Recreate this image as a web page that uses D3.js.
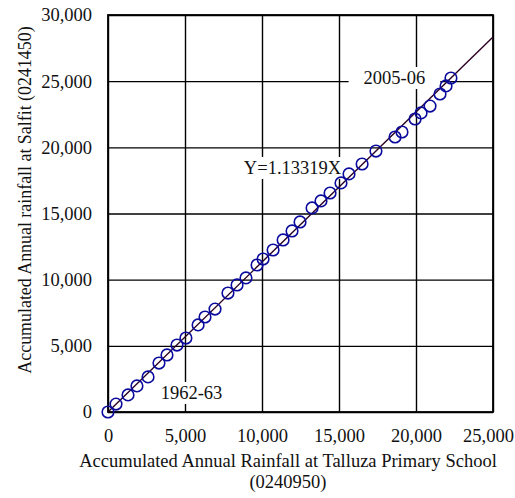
<!DOCTYPE html>
<html><head><meta charset="utf-8">
<script src="https://cdn.jsdelivr.net/npm/d3@7"></script>
<style>
html,body{margin:0;padding:0;background:#fff;}
text{font-family:"Liberation Serif","Times New Roman",serif;fill:#111;}
</style></head>
<body>
<svg id="chart" width="515" height="498"></svg>
<script>
// Accumulated annual rainfall (mm)
const talluza = [0, 520, 1300, 1880, 2600, 3310, 3830, 4480, 5060, 5850, 6300, 6950, 7790, 8380, 8960, 9680, 10070, 10720, 11370, 11950, 12470, 13250, 13830, 14420, 15130, 15650, 16500, 17400, 18640, 19090, 19940, 20330, 20910, 21560, 21950, 22270];
const salfit  = [0, 600, 1290, 1970, 2650, 3700, 4310, 5060, 5590, 6580, 7180, 7780, 8990, 9600, 10130, 11110, 11560, 12240, 13000, 13680, 14360, 15420, 15950, 16550, 17310, 17990, 18740, 19720, 20780, 21160, 22140, 22600, 23120, 24030, 24640, 25240];
const slope = 1.13319;
const xTicks = [0, 5000, 10000, 15000, 20000, 25000];
const yTicks = [0, 5000, 10000, 15000, 20000, 25000, 30000];
const labels = [
  {text: "1962-63", x: 5420, y: 1440},
  {text: "Y=1.13319X", x: 11980, y: 18440},
  {text: "2005-06", x: 18600, y: 25240}
];

const svg = d3.select("#chart");
const L = 108, R = 493, T = 15, B = 412;
const FS = 18.5;
const x = d3.scaleLinear().domain([0, 25000]).range([L, R]);
const y = d3.scaleLinear().domain([0, 30000]).range([B, T]);
const fmt = d3.format(",");

// grid + tick labels
svg.append("g").attr("transform", `translate(0,${B})`)
  .call(d3.axisBottom(x).tickValues(xTicks).tickSize(-(B - T)).tickFormat(fmt).tickPadding(17))
  .call(g => g.select(".domain").remove())
  .call(g => g.selectAll("line").attr("stroke", "#000").attr("stroke-width", 1.4))
  .call(g => g.selectAll("text").attr("font-size", FS).attr("fill", "#111")
    .attr("dx", (d) => d === 25000 ? -5 : 0));
svg.append("g").attr("transform", `translate(${L},0)`)
  .call(d3.axisLeft(y).tickValues(yTicks).tickSize(-(R - L)).tickFormat(fmt).tickPadding(16))
  .call(g => g.select(".domain").remove())
  .call(g => g.selectAll("line").attr("stroke", "#000").attr("stroke-width", 1.4))
  .call(g => g.selectAll("text").attr("font-size", FS).attr("fill", "#111"));

// labels with white boxes (under the data marks)
const lg = svg.append("g");
labels.forEach(l => {
  const t = lg.append("text").attr("x", x(l.x)).attr("y", y(l.y))
    .attr("text-anchor", "middle").attr("dominant-baseline", "central")
    .attr("font-size", FS).text(l.text);
  const bb = t.node().getBBox();
  lg.insert("rect", "text").attr("x", bb.x - 15).attr("y", bb.y - 1)
    .attr("width", bb.width + 30).attr("height", bb.height + 2).attr("fill", "#fff");
});

// frame
svg.append("rect").attr("x", L).attr("y", T).attr("width", R - L).attr("height", B - T)
  .attr("fill", "none").attr("stroke", "#000").attr("stroke-width", 1.8);

// fit line
svg.append("line")
  .attr("x1", x(0)).attr("y1", y(0))
  .attr("x2", x(25000)).attr("y2", y(25000 * slope))
  .attr("stroke", "#2a0022").attr("stroke-width", 1.4);

// points
svg.append("g").selectAll("circle").data(talluza).join("circle")
  .attr("cx", (d) => x(d)).attr("cy", (d, i) => y(salfit[i]))
  .attr("r", 5.8).attr("fill", "none").attr("stroke", "#0a0a9c").attr("stroke-width", 1.6);

// axis titles
svg.append("text").attr("x", 288).attr("y", 467).attr("text-anchor", "middle")
  .attr("font-size", FS).text("Accumulated Annual Rainfall at Talluza Primary School");
svg.append("text").attr("x", 288).attr("y", 488).attr("text-anchor", "middle")
  .attr("font-size", FS).text("(0240950)");
svg.append("text").attr("transform", "translate(31,200) rotate(-90)").attr("text-anchor", "middle")
  .attr("font-size", 17.9).text("Accumulated Annual rainfall at Salfit (0241450)");
</script>
</body></html>
